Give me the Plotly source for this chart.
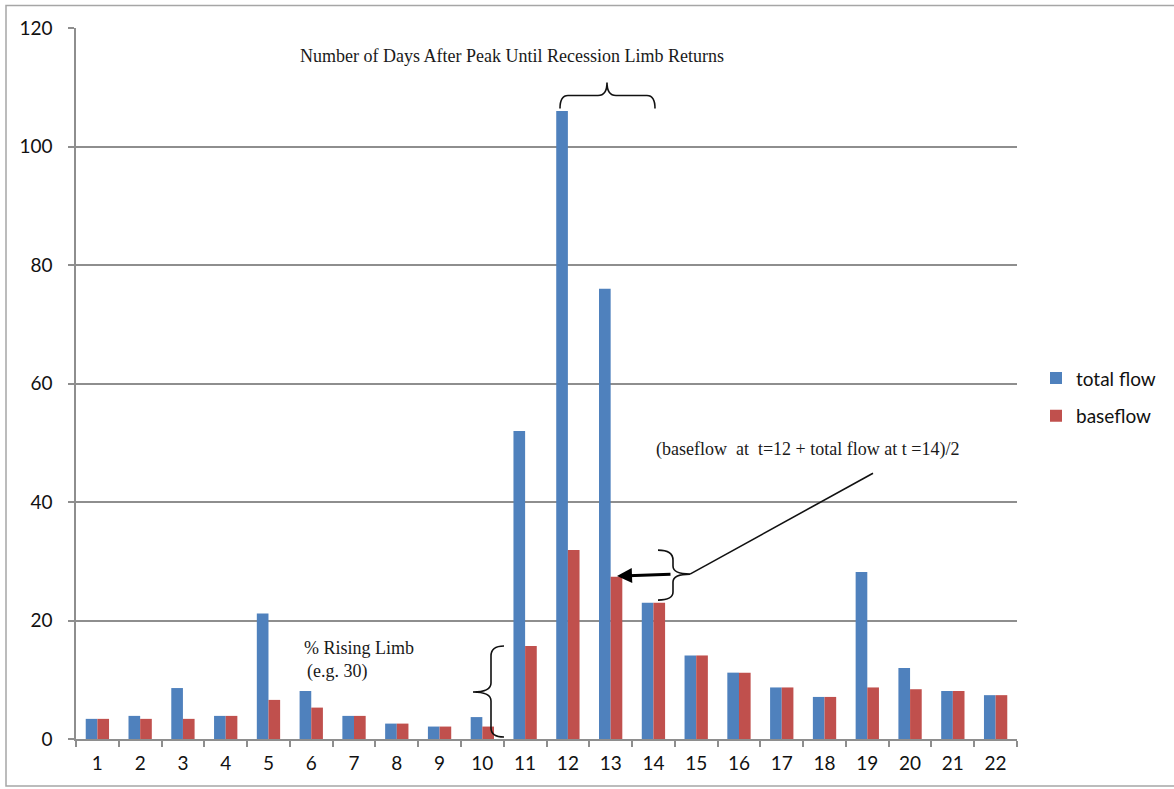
import plotly.graph_objects as go

# ---- data ----
categories = ["1", "2", "3", "4", "5", "6", "7", "8", "9", "10", "11",
              "12", "13", "14", "15", "16", "17", "18", "19", "20", "21", "22"]
total_flow = [3.4, 3.9, 8.6, 3.9, 21.2, 8.1, 3.9, 2.6, 2.1, 3.7, 52.0,
              106.0, 76.0, 23.0, 14.1, 11.2, 8.7, 7.1, 28.2, 12.0, 8.1, 7.4]
baseflow = [3.4, 3.4, 3.4, 3.9, 6.6, 5.3, 3.9, 2.6, 2.1, 2.1, 15.7,
            31.9, 27.4, 23.0, 14.1, 11.2, 8.7, 7.1, 8.7, 8.4, 8.1, 7.4]
y_ticks = [0, 20, 40, 60, 80, 100, 120]

BLUE = "#4F81BD"
RED = "#C0504D"
GRID = "#8E8E8E"

W, H = 1174, 789
L, R, T, B = 76, 1017, 27.5, 739


def px(x):
    return (x - L) / (R - L)


def py(y):
    return (B - y) / (B - T)


def path(points_cmds):
    out = []
    for cmd, pts in points_cmds:
        coords = " ".join(f"{px(a):.5f},{py(b):.5f}" for a, b in pts)
        out.append(f"{cmd} {coords}")
    return " ".join(out)


fig = go.Figure()
fig.add_trace(go.Bar(x=categories, y=total_flow, name="total flow",
                     marker=dict(color=BLUE, line=dict(width=0)),
                     legendgroup="a"))
fig.add_trace(go.Bar(x=categories, y=baseflow, name="baseflow",
                     marker=dict(color=RED, line=dict(width=0)),
                     legendgroup="b"))

shapes = []
# outer frame
shapes.append(dict(type="rect", xref="paper", yref="paper",
                   x0=px(6), x1=px(1185), y0=py(786), y1=py(5),
                   line=dict(color="#A6A6A6", width=1.5), layer="below"))
line_style = dict(color="#111111", width=1.6)
# top horizontal brace
shapes.append(dict(type="path", xref="paper", yref="paper", line=line_style,
                   path=path([("M", [(560, 108)]),
                              ("Q", [(560, 95), (568, 95)]),
                              ("L", [(598, 95)]),
                              ("Q", [(607, 95), (607, 82)]),
                              ("Q", [(607, 95), (616, 95)]),
                              ("L", [(647, 95)]),
                              ("Q", [(655, 95), (655, 108)])])))
# left vertical brace (rising limb)
shapes.append(dict(type="path", xref="paper", yref="paper", line=line_style,
                   path=path([("M", [(504, 646)]),
                              ("Q", [(491, 646), (491, 656)]),
                              ("L", [(491, 683)]),
                              ("Q", [(491, 692), (473, 692)]),
                              ("Q", [(491, 692), (491, 701)]),
                              ("L", [(491, 728)]),
                              ("Q", [(491, 737), (504, 737)])])))
# right vertical brace
shapes.append(dict(type="path", xref="paper", yref="paper", line=line_style,
                   path=path([("M", [(658, 550)]),
                              ("Q", [(673, 550), (673, 560)]),
                              ("L", [(673, 566)]),
                              ("Q", [(673, 574), (690, 574)]),
                              ("Q", [(673, 574), (673, 582)]),
                              ("L", [(673, 592)]),
                              ("Q", [(673, 600), (658, 600)])])))
# leader line
shapes.append(dict(type="line", xref="paper", yref="paper",
                   x0=px(690), y0=py(574), x1=px(873), y1=py(473),
                   line=line_style))

serif = dict(family="Liberation Serif, Times New Roman, serif", size=18, color="#1a1a1a")
annotations = [
    dict(text="Number of Days After Peak Until Recession Limb Returns",
         x=px(512), y=py(56), xref="paper", yref="paper", showarrow=False,
         xanchor="center", yanchor="middle", font=serif),
    dict(text="% Rising Limb", x=px(302), y=py(648), xref="paper", yref="paper",
         showarrow=False, xanchor="left", yanchor="middle", font=serif),
    dict(text="(e.g. 30)", x=px(305), y=py(671), xref="paper", yref="paper",
         showarrow=False, xanchor="left", yanchor="middle", font=serif),
    dict(text="(baseflow&nbsp;&nbsp;at&nbsp;&nbsp;t=12 + total flow at t =14)/2",
         x=px(807), y=py(449), xref="paper", yref="paper", showarrow=False,
         xanchor="center", yanchor="middle", font=serif),
    dict(text="", x=px(617), y=py(576), xref="paper", yref="paper",
         showarrow=True, arrowhead=2, arrowsize=1, arrowwidth=3,
         arrowcolor="#000000", ax=55, ay=-2, axref="pixel", ayref="pixel",
         standoff=0),
]

tick_font = dict(family="Lato, Open Sans, sans-serif", size=19, color="#111111")

fig.update_layout(
    width=W, height=H,
    margin=dict(l=L, r=W - R, t=T, b=H - B, autoexpand=False),
    paper_bgcolor="white", plot_bgcolor="white",
    barmode="group", bargap=0.455, bargroupgap=0,
    showlegend=True,
    legend=dict(x=px(1036), y=py(359), xanchor="left", yanchor="top",
                font=dict(family="Lato, Open Sans, sans-serif", size=19, color="#111111"),
                traceorder="grouped", tracegroupgap=10,
                bgcolor="rgba(0,0,0,0)"),
    xaxis=dict(type="category", tickson="boundaries", ticks="outside",
               ticklen=6, tickwidth=1.5, tickcolor=GRID,
               showline=True, linecolor=GRID, linewidth=1.5,
               showgrid=False, tickfont=tick_font, zeroline=False,
               ticklabelstandoff=6),
    yaxis=dict(range=[0, 120], tickvals=y_ticks, ticks="outside",
               ticklen=6, tickwidth=1.5, tickcolor=GRID,
               showline=True, linecolor=GRID, linewidth=1.5,
               showgrid=True, gridcolor=GRID, gridwidth=1.5,
               zeroline=False, tickfont=tick_font, ticklabelstandoff=12),
    shapes=shapes,
    annotations=annotations,
)

fig.write_html("out.html")
